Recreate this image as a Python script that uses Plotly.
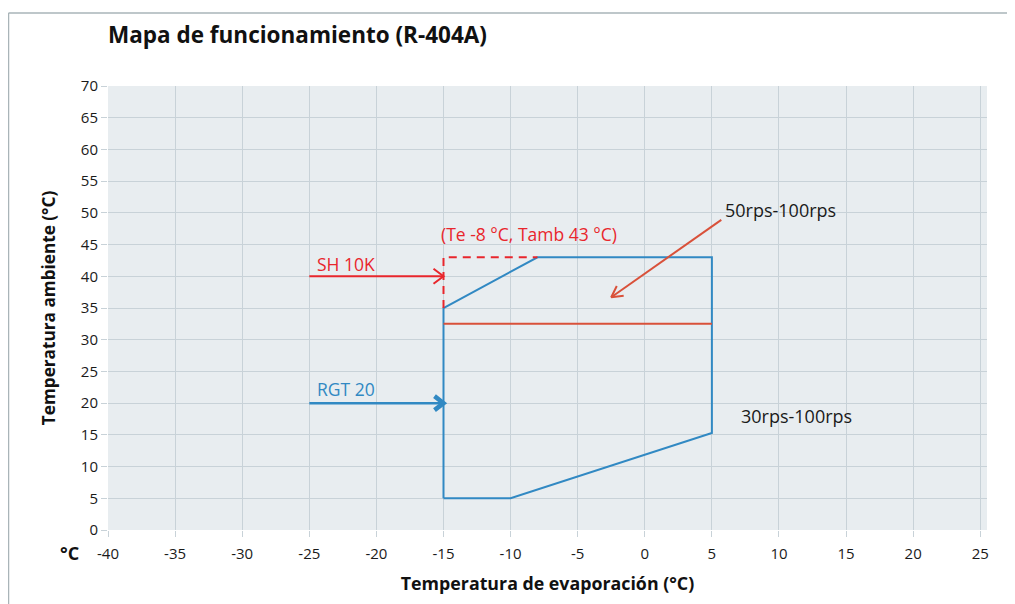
import plotly.graph_objects as go

# ---- data ----
env_te = [-15, -10, 5, 5, -8, -15, -15]
env_ta = [5, 5, 15.3, 43, 43, 35, 5]

red_line_te = [-15, 5]
red_line_ta = [32.5, 32.5]

sh_dash_te = [-15, -15, -8]
sh_dash_ta = [35, 43, 43]

sh_arrow_te = [-25, -15]
sh_arrow_ta = [40, 40]

rgt_arrow_te = [-25, -15]
rgt_arrow_ta = [20, 20]

diag_arrow_te = [5.7, -2.5]
diag_arrow_ta = [48.9, 36.7]

x_ticks = list(range(-40, 30, 5))
x_tick_text = [str(v) for v in x_ticks]
y_ticks = list(range(0, 75, 5))
y_tick_text = [str(v) for v in y_ticks]

X_RANGE = [-40, 25.5]
Y_RANGE = [0, 70]

# layout geometry (page body has an 8px margin)
OFF = 8
W, H = 1015 - OFF, 604 - OFF
M_L, M_T = 108 - OFF, 86 - OFF
M_R = W - (987 - OFF)
M_B = H - (530 - OFF)
PW = W - M_L - M_R
PH = H - M_T - M_B
sx = PW / (X_RANGE[1] - X_RANGE[0])
sy = PH / (Y_RANGE[1] - Y_RANGE[0])


def px_x(xs):  # screen px -> paper
    return (xs - OFF - M_L) / PW


def px_y(ys):
    return (H - M_B - (ys - OFF)) / PH


BLUE = "#3189c3"
RED = "#e8262c"
ORANGE = "#d9513a"


def chevron(xs, ys, L=10, Wd=7.5):
    dx = (xs[1] - xs[0]) * sx
    dy = -(ys[1] - ys[0]) * sy
    n = (dx ** 2 + dy ** 2) ** 0.5
    ux, uy = dx / n, dy / n
    px, py = -uy, ux
    tx, ty = xs[1], ys[1]
    pts = []
    for s in (1, -1):
        bx = -L * ux + s * Wd * px
        by = -L * uy + s * Wd * py
        pts.append((tx + bx / sx, ty - by / sy))
    return [pts[0][0], tx, pts[1][0]], [pts[0][1], ty, pts[1][1]]


fig = go.Figure()

fig.add_trace(go.Scatter(x=env_te, y=env_ta, mode="lines",
                         line=dict(color=BLUE, width=2), hoverinfo="skip"))
fig.add_trace(go.Scatter(x=red_line_te, y=red_line_ta, mode="lines",
                         line=dict(color=ORANGE, width=2), hoverinfo="skip"))
fig.add_trace(go.Scatter(x=sh_dash_te, y=sh_dash_ta, mode="lines",
                         line=dict(color=RED, width=2, dash="8px,6px"), hoverinfo="skip"))

fig.add_trace(go.Scatter(x=sh_arrow_te, y=sh_arrow_ta, mode="lines",
                         line=dict(color=RED, width=2), hoverinfo="skip"))
cx, cy = chevron(sh_arrow_te, sh_arrow_ta, 10, 7.5)
fig.add_trace(go.Scatter(x=cx, y=cy, mode="lines",
                         line=dict(color=RED, width=2), hoverinfo="skip"))

fig.add_trace(go.Scatter(x=rgt_arrow_te, y=rgt_arrow_ta, mode="lines",
                         line=dict(color=BLUE, width=2.5), hoverinfo="skip"))
cx, cy = chevron(rgt_arrow_te, rgt_arrow_ta, 9, 7)
fig.add_trace(go.Scatter(x=cx, y=cy, mode="lines",
                         line=dict(color=BLUE, width=4.5), hoverinfo="skip"))

fig.add_trace(go.Scatter(x=diag_arrow_te, y=diag_arrow_ta, mode="lines",
                         line=dict(color=ORANGE, width=2), hoverinfo="skip"))
cx, cy = chevron(diag_arrow_te, diag_arrow_ta, 11, 6)
fig.add_trace(go.Scatter(x=cx, y=cy, mode="lines",
                         line=dict(color=ORANGE, width=2), hoverinfo="skip"))

FONT = "Open Sans"

annotations = [
    dict(x=-15.3, y=46.6, text="(Te -8 °C, Tamb 43 °C)", font=dict(color=RED, size=17.5)),
    dict(x=-24.6, y=41.9, text="SH 10K", font=dict(color=RED, size=17.5)),
    dict(x=-24.6, y=22.2, text="RGT 20", font=dict(color=BLUE, size=17.5)),
    dict(x=5.8, y=50.4, text="50rps-100rps", font=dict(color="#1a1a1a", size=18)),
    dict(x=7.0, y=17.9, text="30rps-100rps", font=dict(color="#1a1a1a", size=18)),
]
for a in annotations:
    a.update(xref="x", yref="y", xanchor="left", yanchor="middle", showarrow=False)
    a["font"]["family"] = FONT

annotations.append(dict(xref="paper", yref="paper", x=px_x(58), y=px_y(553),
                        text="<b>°C</b>", showarrow=False, xanchor="left", yanchor="middle",
                        font=dict(family=FONT, size=18, color="#111")))
annotations.append(dict(xref="paper", yref="paper", x=px_x(106), y=px_y(35),
                        text="<b>Mapa de funcionamiento (R-404A)</b>", showarrow=False,
                        xanchor="left", yanchor="middle",
                        font=dict(family=FONT, size=22.5, color="#111")))

fig.update_layout(
    width=W, height=H,
    margin=dict(l=M_L, r=M_R, t=M_T, b=M_B, autoexpand=False),
    paper_bgcolor="white",
    plot_bgcolor="#e8edf0",
    showlegend=False,
    font=dict(family=FONT, color="#1a1a1a", size=15),
    annotations=annotations,
    shapes=[
        dict(type="line", xref="paper", yref="paper",
             x0=px_x(8.5), x1=px_x(1030),
             y0=px_y(13), y1=px_y(13),
             line=dict(color="#a9b4b8", width=1.5)),
        dict(type="line", xref="paper", yref="paper",
             x0=px_x(8.5), x1=px_x(8.5),
             y0=px_y(13), y1=px_y(620),
             line=dict(color="#a9b4b8", width=1.5)),
    ],
)

fig.update_xaxes(range=X_RANGE, tickvals=x_ticks, ticktext=x_tick_text, automargin=False,
                 showgrid=True, gridcolor="#c8d2d8", gridwidth=1,
                 zeroline=False, ticks="outside", ticklen=6, tickcolor="#c8d2d8",
                 ticklabelstandoff=4,
                 showline=False, tickfont=dict(size=15, color="#1a1a1a"),
                 title=dict(text="<b>Temperatura de evaporación (°C)</b>", standoff=15,
                            font=dict(size=17.8, color="#111")))
fig.update_yaxes(range=Y_RANGE, tickvals=y_ticks, ticktext=y_tick_text, automargin=False,
                 showgrid=True, gridcolor="#c8d2d8", gridwidth=1,
                 zeroline=False, ticks="outside", ticklen=6, tickcolor="#c8d2d8",
                 showline=False, tickfont=dict(size=15, color="#1a1a1a"),
                 title=dict(text="<b>Temperatura ambiente (°C)</b>", standoff=20,
                            font=dict(size=17.2, color="#111")))

fig.write_html("out.html")
